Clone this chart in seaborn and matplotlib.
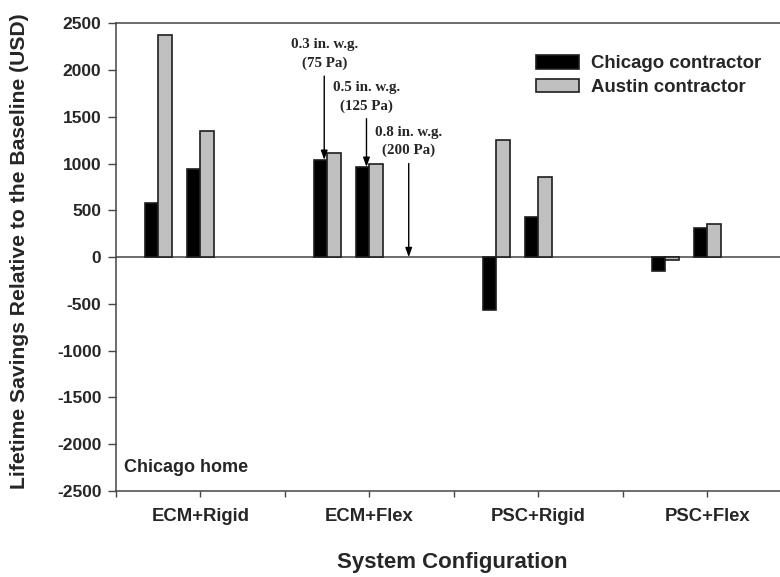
import numpy as np
import pandas as pd
import matplotlib
matplotlib.use("Agg")
import matplotlib.pyplot as plt
import seaborn as sns

# ---------------- data ----------------
configs = ["ECM+Rigid", "ECM+Flex", "PSC+Rigid", "PSC+Flex"]
pressures = ["0.3 in. w.g.", "0.5 in. w.g.", "0.8 in. w.g."]
pressures_pa = ["(75 Pa)", "(125 Pa)", "(200 Pa)"]
contractors = ["Chicago contractor", "Austin contractor"]
chicago_vals = [
    [580, 940, None],
    [1040, 965, None],
    [-560, 430, None],
    [-145, 310, None],
]
austin_vals = [
    [2375, 1350, None],
    [1110, 995, None],
    [1250, 855, None],
    [-35, 350, None],
]
yticks = list(range(-2500, 2501, 500))
annot_config = "ECM+Flex"
home_label = "Chicago home"

# ---------------- table ----------------
rows = []
order = []
for k, cfg in enumerate(configs):
    order.append(f"gap{k}")
    for j, p in enumerate(pressures):
        slot = f"{cfg}|{p}"
        order.append(slot)
        for name, vals in zip(contractors, [chicago_vals, austin_vals]):
            v = vals[k][j]
            if v is not None:
                rows.append({"slot": slot, "contractor": name, "value": v})
df = pd.DataFrame(rows)

# ---------------- style ----------------
sns.set_theme(style="ticks")
plt.rcParams["font.family"] = ["Liberation Sans", "DejaVu Sans"]
plt.rcParams["font.weight"] = "bold"
line_col = "#454545"

fig = plt.figure(figsize=(7.8, 5.77), dpi=100)
ax = fig.add_axes([116 / 780, 1 - 491 / 577, 664 / 780, (491 - 23.3) / 577])

sns.barplot(data=df, x="slot", y="value", hue="contractor", order=order,
            hue_order=contractors, palette=["#000000", "#c0c0c0"],
            width=0.64, saturation=1, edgecolor="#1e1e1e", linewidth=1.2,
            errorbar=None, ax=ax)

ax.axhline(0, color=line_col, lw=1.1, zorder=0.5)
ax.set_ylim(-2500, 2500)
ax.set_xlim(0, 15.72)
ax.set_yticks(yticks)
ax.set_yticklabels([str(t) for t in yticks], fontsize=12.5, fontweight="bold")

xt = np.arange(0, 16, 2)
ax.set_xticks(xt)
xl = []
for i in range(len(xt)):
    xl.append(configs[i // 2] if i % 2 == 1 else "")
ax.set_xticklabels(xl, fontsize=13.3, fontweight="bold")

ax.tick_params(axis="y", direction="out", length=5.5, width=1.0, color=line_col, pad=5)
ax.tick_params(axis="x", direction="out", length=4.5, width=1.0, color=line_col, pad=8)
for s in ["left", "bottom", "top"]:
    ax.spines[s].set_visible(True)
    ax.spines[s].set_color(line_col)
    ax.spines[s].set_linewidth(1.1)
ax.spines["right"].set_visible(False)

ax.set_xlabel("System Configuration", fontsize=16, fontweight="bold")
ax.set_ylabel("Lifetime Savings Relative to the Baseline (USD)", fontsize=15.2, fontweight="bold")
ax.xaxis.set_label_coords(0.506, -0.152)
ax.xaxis.label.set_va("center")
ax.yaxis.set_label_coords(-0.1446, 0.513)
ax.yaxis.label.set_va("center")

# legend
handles, labels = ax.get_legend_handles_labels()
ax.legend(handles, labels, loc="upper left", bbox_to_anchor=(0.6325, 0.932),
          frameon=False, prop=dict(size=13.4, weight="bold"), handlelength=2.3,
          handleheight=0.76, handletextpad=0.65, labelspacing=0.33,
          borderpad=0, borderaxespad=0)

# annotations
k = configs.index(annot_config)
text_heights = [2170, 1715, 1235]
for j in range(len(pressures)):
    xpos = 4 * k + 1 + j - 0.07
    v = chicago_vals[k][j]
    tip = v if v is not None else 0
    ax.annotate(f"{pressures[j]}\n{pressures_pa[j]}", xy=(xpos, tip),
                xytext=(xpos, text_heights[j]), textcoords="data",
                ha="center", va="center", fontsize=10.8, fontweight="bold",
                family=["Liberation Serif"], linespacing=1.5,
                arrowprops=dict(arrowstyle="-|>,head_length=0.5,head_width=0.18",
                                mutation_scale=11, lw=1.0, color="black",
                                shrinkA=2, shrinkB=0))

ax.text(0.012, 0.05, home_label, transform=ax.transAxes, fontsize=13,
        fontweight="bold", ha="left", va="center")

fig.savefig("out.png", dpi=100)
